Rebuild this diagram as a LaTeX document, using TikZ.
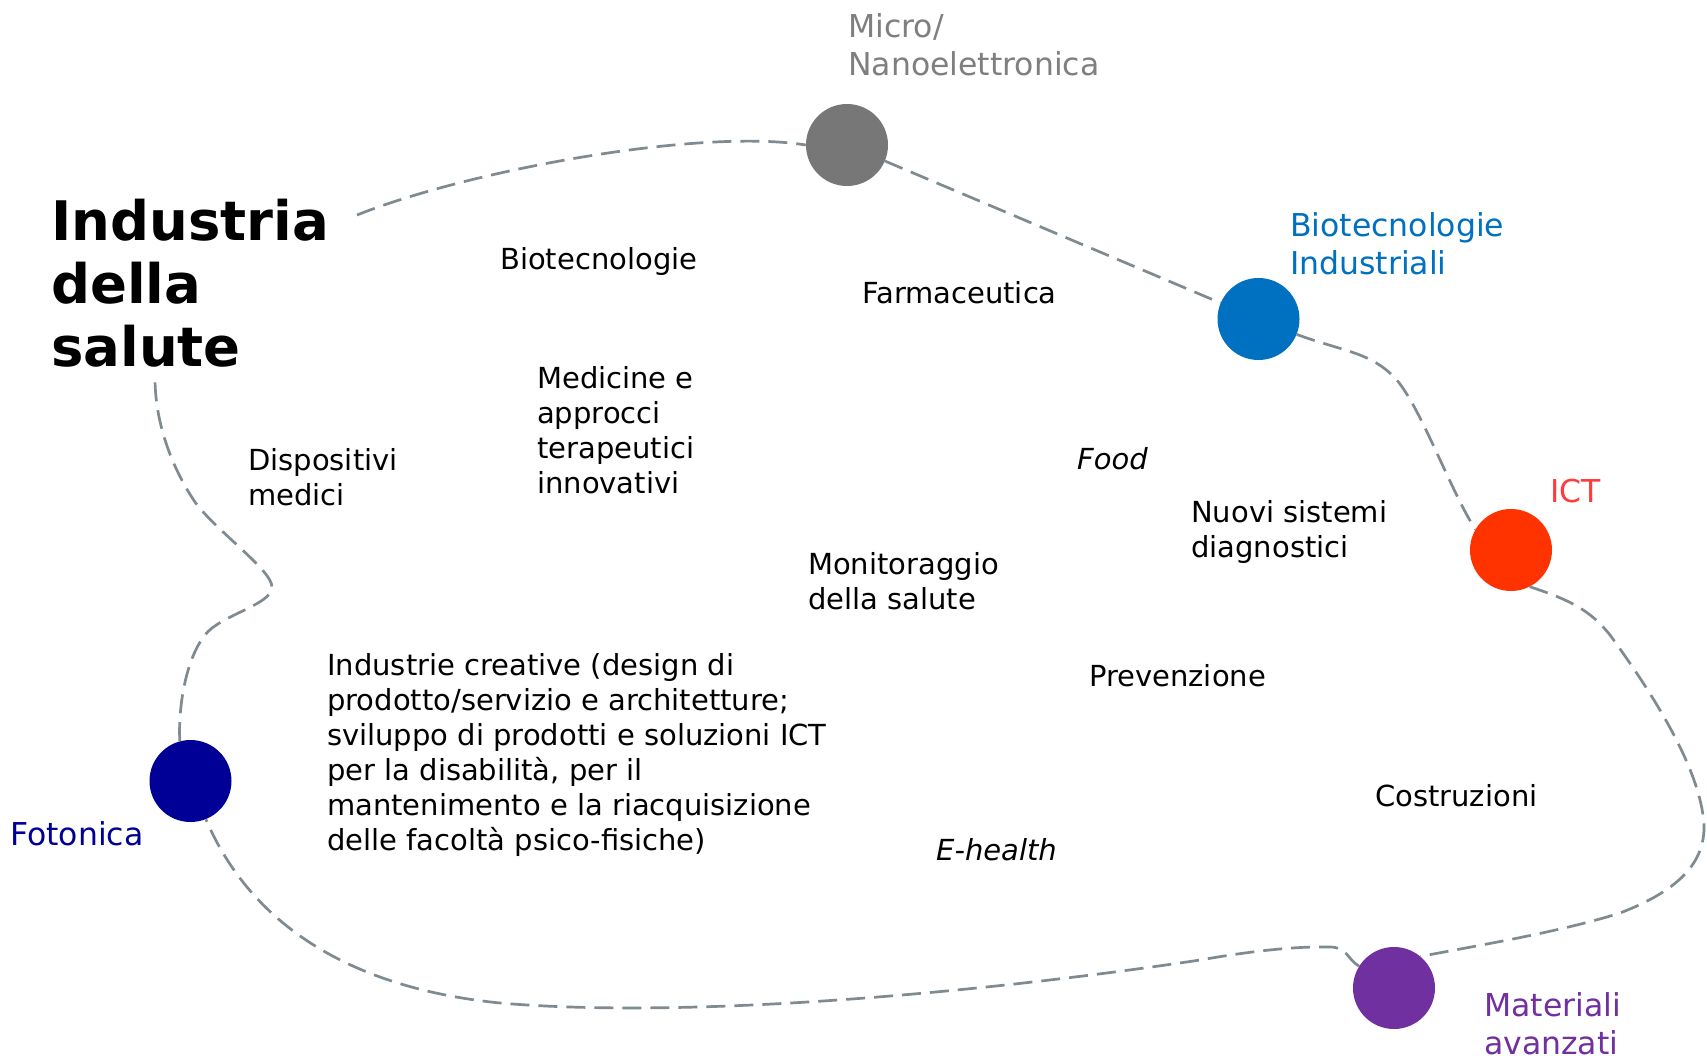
\documentclass[tikz,border=0pt]{standalone}
\usepackage{fontspec}
\setmainfont{DejaVu Sans}
\definecolor{cgray}{HTML}{777777}
\definecolor{cgraytxt}{HTML}{7F7F7F}
\definecolor{cblue}{HTML}{0070C0}
\definecolor{cred}{HTML}{FF3300}
\definecolor{credtxt}{HTML}{FF3B3B}
\definecolor{cnavy}{HTML}{000096}
\definecolor{cpurple}{HTML}{7030A0}
\definecolor{cline}{RGB}{128,138,145}
\begin{document}
\begin{tikzpicture}[x=1pt,y=-1pt,
  dot/.style={circle,minimum size=82pt,inner sep=0pt,draw=none,fill=#1},
  txt/.style={anchor=west,inner sep=0pt,align=left,font=\fontsize{29pt}{35pt}\selectfont},
  lbl/.style={anchor=west,inner sep=0pt,align=left,text=#1,font=\fontsize{31.5pt}{38pt}\selectfont},
  title/.style={anchor=west,inner sep=0pt,align=left,font=\fontsize{54.5pt}{63pt}\selectfont\bfseries},
  link/.style={draw=cline,line width=2.7pt,dash pattern=on 19pt off 9pt}]
\fill[white] (0,0) rectangle (1707,1056);
\useasboundingbox (0,0) rectangle (1707,1056);

% circles
\node[dot=cgray]   (micro) at (847,145) {};
\node[dot=cblue]   (bio)   at (1258.5,319) {};
\node[dot=cred]    (ict)   at (1511,550) {};
\node[dot=cnavy]   (foto)  at (190.5,781) {};
\node[dot=cpurple] (mat)   at (1394,988) {};

% free ends of the loop near the title
\coordinate (tA) at (357,215);
\coordinate (tB) at (155,378);

% dashed loop
\draw[link] (tA) .. controls (470,170) and (700,128) .. (micro.west);
\draw[link] (micro) -- (bio);
\draw[link] (bio.-22) .. controls (1345,352) and (1370,352) .. (1395,378)
  .. controls (1420,405) and (1450,490) .. (ict.150);
\draw[link] (ict.-63) .. controls (1570,600) and (1590,610) .. (1610,635)
  .. controls (1650,690) and (1695,760) .. (1703,815)
  .. controls (1710,860) and (1680,890) .. (1620,913)
  .. controls (1560,932) and (1480,945) .. (mat.50);
\draw[link] (mat.148) .. controls (1348,960) and (1347,947) .. (1330,947)
  .. controls (1290,946) and (1240,953) .. (1200,960)
  .. controls (1000,990) and (700,1020) .. (500,1003)
  .. controls (320,985) and (240,900) .. (foto.-68);
\draw[link] (foto.105) .. controls (178,710) and (185,660) .. (205,635)
  .. controls (220,615) and (272,605) .. (272,587)
  .. controls (272,570) and (215,530) .. (195,502)
  .. controls (170,465) and (155,420) .. (tB);

% title
\node[title] (ttl) at (51,283) {Industria\\della\\salute};

% coloured labels
\node[lbl=cgraytxt] (lmicro) at (848,45) {Micro/\\Nanoelettronica};
\node[lbl=cblue] (lbio) at (1290,244) {Biotecnologie\\Industriali};
\node[lbl=credtxt] (lict) at (1550,491) {ICT};
\node[lbl=cnavy] (lfoto) at (10,834) {Fotonica};
\node[lbl=cpurple] (lmat) at (1484,1024) {Materiali\\avanzati};

% black texts
\node[txt] (t1) at (500,262) {Biotecnologie};
\node[txt] (t2) at (862,293) {Farmaceutica};
\node[txt] (t3) at (537,430) {Medicine e\\approcci\\terapeutici\\innovativi};
\node[txt] (t4) at (248,477) {Dispositivi\\medici};
\node[txt] (t5) at (1077,459) {\itshape Food};
\node[txt] (t6) at (1191,532) {Nuovi sistemi\\diagnostici};
\node[txt] (t7) at (808,581) {Monitoraggio\\della salute};
\node[txt] (t8) at (1089,676) {Prevenzione};
\node[txt] (t9) at (327,755) {Industrie creative (design di\\prodotto/servizio e architetture;\\sviluppo di prodotti e soluzioni ICT\\per la disabilità, per il\\mantenimento e la riacquisizione\\delle facoltà psico-fisiche)};
\node[txt] (t10) at (1375,796) {Costruzioni};
\node[txt] (t11) at (936,850) {\itshape E-health};
\end{tikzpicture}
\end{document}
